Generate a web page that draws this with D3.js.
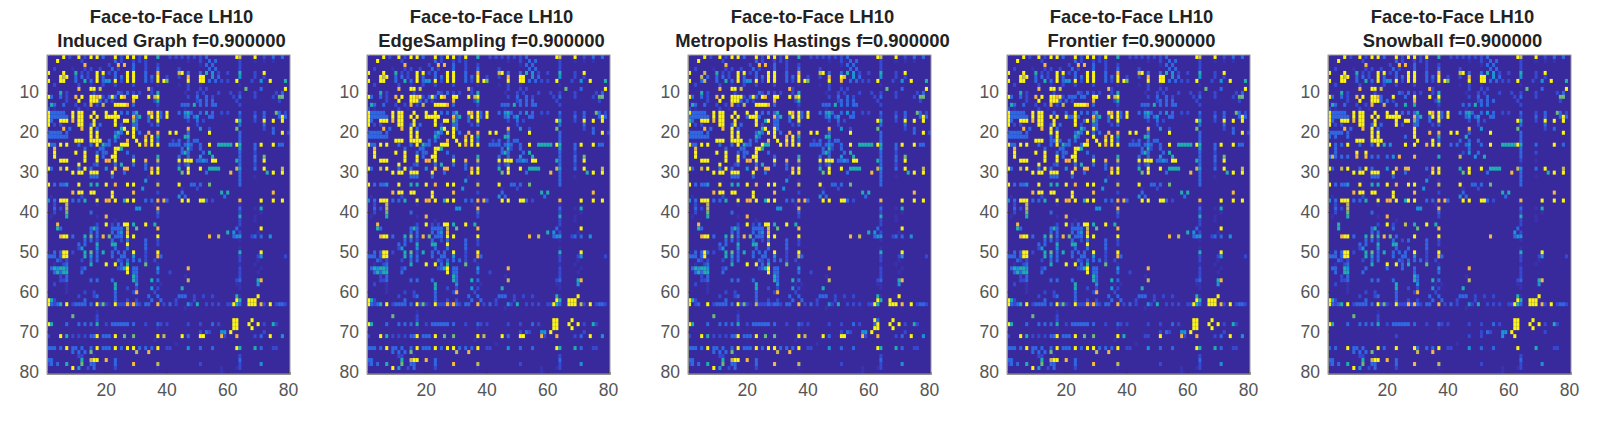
<!DOCTYPE html>
<html>
<head>
<meta charset="utf-8">
<script src="https://cdn.jsdelivr.net/npm/d3@7"></script>
<style>
  html, body { margin: 0; padding: 0; background: #fff; }
  text { font-family: "Liberation Sans", Arial, sans-serif; }
</style>
</head>
<body>
<svg id="chart" width="1600" height="431"></svg>
<script>
const titleLine = "Face-to-Face LH10";
const methods = ["Induced Graph", "EdgeSampling", "Metropolis Hastings", "Frontier", "Snowball"];
const fraction = "f=0.900000";
const nodes = d3.range(1, 81);
const yTicks = [10, 20, 30, 40, 50, 60, 70, 80];
const xTicks = [20, 40, 60, 80];
const levelColors = ["#38299c", "#3933b0", "#3549d2", "#2f68e2", "#1b92d8", "#1fb0ae", "#6abc78", "#c4bc52", "#f7b93a", "#fcf60c"];

// one string per row, "col:level" or "from-to:level", level 0..9
const baseRows = [
  "6:9 8:2 11:9 13:2 15:9 17:9 19:3 23:9 25:2 27:9 29:9 31:2 33:9 37:5 41:2 43:2 45:2 47:2 49:2 51:2 53:3 63:9 64:7 69:9 72:2 75:3 78:3",
  "4:9 12:2 23:3 25:2 29:2 31:2 33:2 47:1 51:2 54:3 56:3 64:2 69:1 72:1 75:1",
  "13:8 21:2 24:8 26:8 29:3 33:2 37:2 51:1 53:3 55:3 64:2",
  "3:2 9:1 13:2 15:2 18:2 22:3 24:2 29:3 33:2 37:3 44:2 54:3 56:3 64:2",
  "1:9 6:9 10:5 12:2 14:2 17:9 19:9 21:2 23:3 27:9 29:9 33:3 37:8 44:7 45:9 47:3 51:3 53:5 55:4 57:2 60:2 64:5 69:2 72:9",
  "5:9 6:7 7:9 10:3 12:3 14:2 17:9 19:3 23:3 25:3 27:9 29:9 33:3 35:3 37:9 40:2 44:2 47:8 51:9 52:9 55:4 57:3 64:4 69:2 72:2",
  "1:9 5:9 6:9 10:3 13:5 15:3 17:9 19:3 20:4 21:4 23:9 25:2 27:9 29:9 33:3 35:2 37:9 39:9 40:6 47:9 51:9 52:9 54:3 56:3 58:2 60:2 63:9 68:2 71:4 74:9 79:5",
  "3:2 11:2 15:1 19:2 23:2 29:2 37:1 44:1 47:2 51:1 64:1",
  "11:8 15:9 16:9 18:7 34:8 35:2 47:2 51:2 53:2 66:6 71:3 79:9",
  "5:5 7:2 16:2 24:3 25:2 27:3 29:2 31:2 35:2 37:5 46:1 50:2 52:2 57:2 61:2 64:2 69:2 76:2 78:3",
  "1:9 2:3 5:3 7:2 10:8 12:9 15:9 16:9 17:8 18:9 19:2 21:3 22:9 23:3 25:9 26:8 29:9 30:9 34:9 36:7 37:9 47:2 50:3 53:3 55:2 62:2 64:3 69:2 75:2 77:6 78:6",
  "7:2 11:9 15:9 16:9 17:9 18:3 20:3 22:2 29:8 36:2 37:5 50:2 51:3 53:3 55:3 63:2 77:2",
  "2:5 3:3 6:3 10:2 13:2 15:8 17:2 19:7 23:9 24:9 25:9 26:9 27:8 29:3 37:2 45:3 46:3 47:3 49:5 51:3 53:3 55:3 56:3 64:2",
  "1:2 3:1 11:2 14:1 37:1 46:1",
  "1:9 2-6:3 9:9 11:9 12:9 16:9 20:9 23:9 25:3 27:3 29:3 30:5 34:9 35:8 37:9 38:3 40:9 44:3 46:4 47:5 48:3 51:3 53:4 55:3 58:2 60:2 64:3 69:2 72:3 76:6 77:3 79:2",
  "1:9 2-7:3 9:9 11:9 12:9 15:9 17:9 20:9 21:9 22:9 23:9 24:9 29:8 30:3 31:5 34:3 35:9 37:9 38:3 40:9 46:3 47:4 49:3 50:4 54:3 55:3 64:2 69:3 72:3 77:3 78:9 79:3",
  "1:9 2:3 5:9 6:9 7:9 9:8 11:9 12:9 16:9 23:9 26:9 27:9 29:6 30:3 34:3 37:9 47:2 50:3 52:2 63:9 64:5 69:2 72:9 75:9 78:9",
  "1:9 3:2 5:2 11:9 12:9 15:3 16:9 18:3 23:9 25:2 29:3 30:3 35:2 37:3 50:2 64:3 72:3",
  "6:8 8:3 12:8 15:9 17:3 25:5 26:9 29:9 30:3 47:8 51:4 54:2 63:6 72:2 75:3",
  "1:3 2-5:3 7:3 15:9 17:9 23:3 24:5 25:3 27:9 29:9 31:3 34:8 37:8 41:9 43:9 47:3 54:9 64:3 75:3 78:9 80:2",
  "1:3 2-6:3 7:3 15:9 17:9 23:5 24:3 29:9 33:8 35:9 37:5 46:5 47:5 64:3",
  "10:9 11:9 12:9 15:9 16:9 17:9 18:9 21:3 23:3 27:8 30:9 33:9 35:9 37:3 42:2 44:3 47:3 49:3 50:3 64:3",
  "1:9 2:3 3:3 5:9 7:9 11:3 15:3 17:9 19:5 20:3 21:3 25:9 26:9 27:9 31:9 33:8 35:9 37:9 41:3 42:3 43:3 44:3 46:3 47:4 48:3 51:3 54:9 57-61:5 63:9 64:5 69:3 71:9 75:9 77:3 78:3",
  "3:8 13:3 18:3 19:3 23:9 24:9 25:5 45:3 47:5 48:2 51:3 64:4 69:3",
  "3:9 10:9 13:9 17:3 19:3 20:3 23:9 27:3 45:3 46:5 47:3 52:3 54:5 64:3 69:2",
  "3:9 13:9 17:9 19:3 22:9 23:9 29:3 37:5 44:3 47:3 51:4 55:5 64:3 69:3 72:6",
  "5:9 6:9 7:9 13:9 17:9 20:8 21:8 23:9 29:9 33:8 37:7 44:9 46:9 47:9 48:9 50:3 51:3 52:4 53:3 55:9 56:9 63:5 64:3 69:3 72:9",
  "11:9 16:2 17:3 23:3 25:5 29:3 33:3 37:2 44:2 46:2 47:3 64:3 69:2",
  "1:9 2:3 5:7 7:9 11:3 13:9 15:3 20:4 23:8 26:8 27:8 33:3 35:8 37:9 44:5 47:9 51:9 54:5 55:5 56:5 57:5 63:7 64:4 69:3 72:9 78:7",
  "9:9 11:9 12:9 15:9 16:9 17:9 22:9 26:3 35:9 37:9 45:6 47:9 53:3 61:8 64:3 73:5 75:9 78:9",
  "15:3 16:3 17:3 22:3 34:1 64:3 69:1",
  "33:4 37:1 64:3",
  "1:9 3:3 5:3 6:3 7:4 11:9 15:5 17:5 20:9 23:8 27:9 29:9 37:7 44:9 48:3 49:3 51:3 54:6 64:3",
  "32:4 45:1 50:2",
  "9:8 11:9 12:9 15:9 16:9 22:9 29:8 37:2 45:3 58:5 60:5 75:8",
  "2:1 12:2 22:9 44:4 46:3 59:3",
  "1:4 3:3 5:9 6:9 7:9 9:3 11:3 13:5 17:9 20:8 21:8 23:9 26:5 27:9 29:9 33:3 35:3 37:8 39:8 40:3 45:9 47:9 51:9 52:9 53:3 55:2 64:8 71:9 75:9 78:9",
  "3:2 7:7 17:1 36:1 64:1",
  "3:3 5:2 7:7 30:4 31:4 37:8 64:3 69:1 71:5",
  "3:2 7:6 15:3 37:3 64:2 71:1",
  "2:1 7:5 17:1 20:8 37:2 64:5 69:1",
  "23:1 64:2 69:1",
  "4:8 17:2 20:9 22:2 24:3 26:9 27:9 29:5 33:9 36:5 64:2",
  "4:5 5:3 15:3 16:5 17:3 22:3 23:3 24:3 25:3 27:7 30:6 37:8 63:3 71:9",
  "15:3 17:3 22:3 24:3 25:4 27:8 60:5 62:4 64:2 70:1",
  "5:8 6:9 7:9 9:3 13:5 15:6 17:3 19:8 21:6 23:3 24:3 25:3 27:9 29:9 37:9 54:8 57:7 62:3 63:4 64:4 68:2 69:3 71:3 74:4",
  "13:3 15:3 17:2 22:3 25:2 27:3 33:3 37:2 64:1",
  "11:3 13:3 17:5 22:5 23:5 27:9 33:3 37:2",
  "11:2 12:4 17:4 23:3 27:3 33:3 64:1",
  "1:1 3:3 5:3 6:9 7:9 9:2 13:5 15:6 17:3 19:5 22:3 24:3 26:3 29:9 33:2 37:9 64:5 71:9",
  "1:3 2:3 3:3 5:3 6:9 7:9 13:5 15:4 17:3 22:3 25:3 26:3 29:4 33:2 37:8 38:3 64:2 70:2 71:4 79:2",
  "4:3 5:2 7:2 12:2 15:3 17:3 24:3 25:2 27:3 29:3 31:3 33:2 36:2 64:2 70:1",
  "3:1 6:2 7:3 15:5 20:9 23:9 25:3 27:5 33:6 37:1 64:1 69:1",
  "2:3 3:5 4:4 5:5 6:5 7:4 12:2 13:3 24:2 25:3 26:5 27:9 29:3 30:3 37:4 47:8 64:2 71:1",
  "3:3 4:5 5:3 6:5 7:5 12:3 27:9 29:3 30:3 37:3 41:2 64:2 70:1",
  "5:2 7:3 29:5 30:3 46:1 64:2",
  "5:2 6:2 7:3 15:3 17:3 22:3 29:5 30:3 35:5 37:3 47:7 63:2 64:3 70:5 71:8",
  "3:2 7:1 23:5 30:4 36:1 38:1 63:1 64:1 70:4",
  "7:1 23:5 27:2 30:2 35:4 37:2 45:5 64:1",
  "7:1 13:2 16:2 23:3 29:2 30:8 36:2",
  "11:2 16:2 17:3 23:3 34:3 37:3 44:3 45:3 46:3 49:2 52:2 55:2 63:5 64:1 70:9",
  "1:9 2:5 3:2 13:3 23:3 27:2 30:2 35:3 38:3 43:2 49:2 63:9 64:5 67:9 68:9 69:9",
  "1:9 2:3 3:2 4:3 5:5 7:9 9:2 10:3 11:3 12:3 13:3 15:3 17:9 18:2 19:6 20:2 21:1 23:9 24:2 25:2 26:2 27:8 28:2 29:8 30:3 31:2 33:3 34:3 37:8 39:2 41:3 43:2 47:4 48:2 50:5 53:2 55:2 57:2 60:2 61:2 62:9 63:5 64:3 67:9 68:9 69:9 71:8 72:2 74:9 76:2 77:3 78:3 79:2",
  "46:1",
  "17:1",
  "9:6 17:2",
  "17:2 62:9 63:9 68:9",
  "1:9 2:5 7:3 11:3 13:3 15:3 17:5 20:2 22-27:3 29:3 33:2 37:3 38:2 40:2 47:2 51:2 55:3 57:2 62:9 63:9 67:9 70:9 72:2 75:5 76:2",
  "17:1 37:1 62:9 63:9 68:9",
  "51:2 53:3 54:2 58:4 59:4 61:9 72:2",
  "1:2 5:9 7:5 9:2 11:2 13:2 15:3 16:3 17:9 19:3 20:3 21:3 23:9 26:6 29:6 37:9 39:7 45:9 47:3 51:9 52:9 58:8 59:2 63:8 69:2 71:3 74:9 78:4",
  "36:1",
  "43:1",
  "1:3 2:3 3:3 5:3 7:9 9:3 10:3 12:3 15:3 17:9 19:3 20:3 21:3 23:9 25:3 27:9 29:9 31:3 33:3 35:3 37:9 40:2 41:2 47:4 51:3 55:3 63:9 64:5 69:5 71:3 75:2 76:2",
  "9:3 11:3 13:3 15:6 30:7 34:8",
  "11:2 12:2 16:1 64:2",
  "1:3 2:3 12:5 15:7 16:9 17:9 20:8 23:3 64:3",
  "1:2 2:3 4:3 7:5 12:6 15:3 16:3 23:3 29:8 37:7 51:2 64:2 71:4",
  "9:9 11:4 14:2 16:3 23:2 37:1 58:1 63:1 64:2",
  "58:1"
];

// per panel: whole rows that read differently, then single cells (level 0 clears)
const rowChanges = [
  {},
  {},
  {},
  {},
  {
    11: "1:9 2:3 5:3 7:2 10:8 12:9 15:9 16:9 17:8 18:3 22:9 26:3 29:9 34:9 37:9 47:2 50:3 53:3 62:2 64:3 69:2 77:6 78:6",
    13: "2:5 3:3 6:3 10:2 13:2 15:8 19:7 23:3 26:5 29:5 37:2 45:3 47:3 49:5 51:3 53:3 64:2",
    19: "6:8 8:3 12:8 15:9 17:3 29:9 47:8 51:4 63:6 72:2 75:3",
    20: "1:3 2-5:3 7:3 15:9 17:9 29:9 34:8 37:8 41:9 43:9 47:3 54:9 64:3 78:9",
    21: "1:3 3:3 7:3 15:9 17:9 26:3 29:9 37:5 46:5 64:3",
    22: "10:9 11:9 12:9 15:9 16:9 17:9 18:9 30:9 35:9 37:3 44:3 47:3 50:3 64:3",
    23: "1:9 3:3 5:3 7:9 11:3 15:3 17:9 19:5 21:4 26:9 29:9 33:8 35:9 37:9 41:3 43:3 46:3 47:4 51:3 54:9 58-62:5 63:9 64:5 69:3 75:9 78:3",
    24: "3:3 64:3 47:3",
    25: "3:3 10:9 13:9 45:2 47:4 50:3 64:3 69:2",
    26: "1:3 2:7 3:3 5:3 7:3 10:8 13:8 15:3 17:3 20:3 22:4 24:8 29:8 37:5 44:7 49:4 52:5 64:3",
    27: "64:2 69:1",
    28: "64:1",
    43: "4:5 17:2 20:9 22:2 26:7 29:5 33:9 36:5 64:2",
    44: "4:5 15:3 16:5 22:3 30:6 37:8 63:3",
    45: "15:3 17:3 62:4 64:2",
    46: "5:8 6:9 7:9 9:3 13:5 15:6 17:5 19:8 21:6 23:3 29:9 37:9 54:8 62:3 63:4 64:4",
    48: "11:3 13:3 17:5 22:5 23:5 33:3 37:2",
    54: "2:3 3:3 6:5 7:4 13:3 20:3 25:3 29:3 37:4 47:8 64:2",
    55: "3:3 6:5 7:5 12:3 29:3 37:3 64:2",
    71: "23:2 47:2 51:2 58:4 62:9",
    74: "1:3 3:3 7:9 9:3 10:3 12:3 17:9 19:3 23:9 29:9 30:3 33:3 35:3 37:9 40:2 41:2 47:4 51:3 55:3 63:9 69:5 75:2 76:2",
    72: "",
    75: "9:3 11:3 13:3 15:6 30:7 35:8"
  }
];

const cellChanges = [
  {},
  { 50: "17:2", 43: "24:2", 63: "71:7" },
  {
    5: "6:7", 6: "5:7 6:0 7:3 52:8", 7: "5:3 6:7 51:8 52:0",
    11: "17:9", 16: "1:3 3:3 20:3 24:3", 17: "1:5 29:3 26:5", 23: "26:5 27:5",
    50: "6:9 7:3", 51: "6:9 7:0 37:7",
    62: "68:0 69:0", 63: "2:0 5:0 23:7 27:3 29:3 64:0 72:0",
    67: "63:3", 68: "62:3", 69: "62:9 63:9"
  },
  {
    11: "22:3 25:3 26:3",
    15: "16:3 20:3", 16: "21:3 22:3 24:3", 17: "26:3",
    19: "26:3", 20: "17:9 29:3", 21: "15:3 17:9", 22: "15:3 16:3 17:9 18:3",
    23: "17:9 25:3",
    71: "45:0 47:2 52:0 39:5 46:2"
  },
  {}
];

const panelLefts = [47, 367, 688, 1007, 1328];
const panelWidth = 243;
const margin = { top: 55, bottom: 57 };
const innerHeight = 431 - margin.top - margin.bottom;

const parseRow = (text) => {
  const cells = [];
  text.split(" ").filter(Boolean).forEach((token) => {
    const [cols, level] = token.split(":");
    const [from, to] = cols.split("-").map(Number);
    d3.range(from, (to || from) + 1).forEach((col) => cells.push([col, +level]));
  });
  return cells;
};

const panelCells = (p) => {
  const out = [];
  nodes.forEach((row) => {
    const levels = new Map(parseRow(rowChanges[p][row] !== undefined ? rowChanges[p][row] : baseRows[row - 1]));
    parseRow(cellChanges[p][row] || "").forEach(([col, level]) => levels.set(col, level));
    levels.forEach((level, col) => {
      if (level > 0) out.push({ row, col, level });
    });
  });
  return out;
};

const svg = d3.select("#chart");
const defs = svg.append("defs");
defs.append("filter").attr("id", "soft")
  .attr("filterUnits", "userSpaceOnUse")
  .attr("x", -5).attr("y", -5).attr("width", panelWidth + 10).attr("height", innerHeight + 10)
  .append("feGaussianBlur").attr("stdDeviation", 0.6);

const xScale = d3.scaleBand().domain(nodes).range([0, panelWidth]);
const yScale = d3.scaleBand().domain(nodes).range([0, innerHeight]);

methods.forEach((method, p) => {
  const g = svg.append("g").attr("transform", `translate(${panelLefts[p]}, ${margin.top})`);

  const cellsG = g.append("g").attr("filter", "url(#soft)");
  cellsG.append("rect")
    .attr("width", panelWidth)
    .attr("height", innerHeight)
    .attr("fill", levelColors[0]);
  cellsG.selectAll("rect.cell")
    .data(panelCells(p))
    .enter()
    .append("rect")
    .attr("class", "cell")
    .attr("x", (d) => xScale(d.col))
    .attr("y", (d) => yScale(d.row))
    .attr("width", xScale.bandwidth())
    .attr("height", yScale.bandwidth())
    .attr("fill", (d) => levelColors[d.level]);

  const yAxisG = g.append("g")
    .call(d3.axisLeft(yScale).tickValues(yTicks).tickSize(-2).tickPadding(8));
  const xAxisG = g.append("g")
    .attr("transform", `translate(0, ${innerHeight})`)
    .call(d3.axisBottom(xScale).tickValues(xTicks).tickSize(-2).tickPadding(10));

  [yAxisG, xAxisG].forEach((axis) => {
    axis.select(".domain").attr("stroke", "#8a8a8a");
    axis.selectAll(".tick line").attr("stroke", "#333");
    axis.selectAll(".tick text").attr("fill", "#555").style("font-size", "17.5px");
  });

  g.append("rect")
    .attr("width", panelWidth)
    .attr("height", innerHeight)
    .attr("fill", "none")
    .attr("stroke", "#9a9a9a")
    .attr("stroke-width", 1);

  [[titleLine, -32], [`${method} ${fraction}`, -8]].forEach(([text, dy]) => {
    g.append("text")
      .attr("x", panelWidth / 2 + 3)
      .attr("y", dy)
      .attr("text-anchor", "middle")
      .attr("fill", "#222")
      .style("font-size", "18.4px")
      .style("font-weight", "bold")
      .text(text);
  });
});
</script>
</body>
</html>
